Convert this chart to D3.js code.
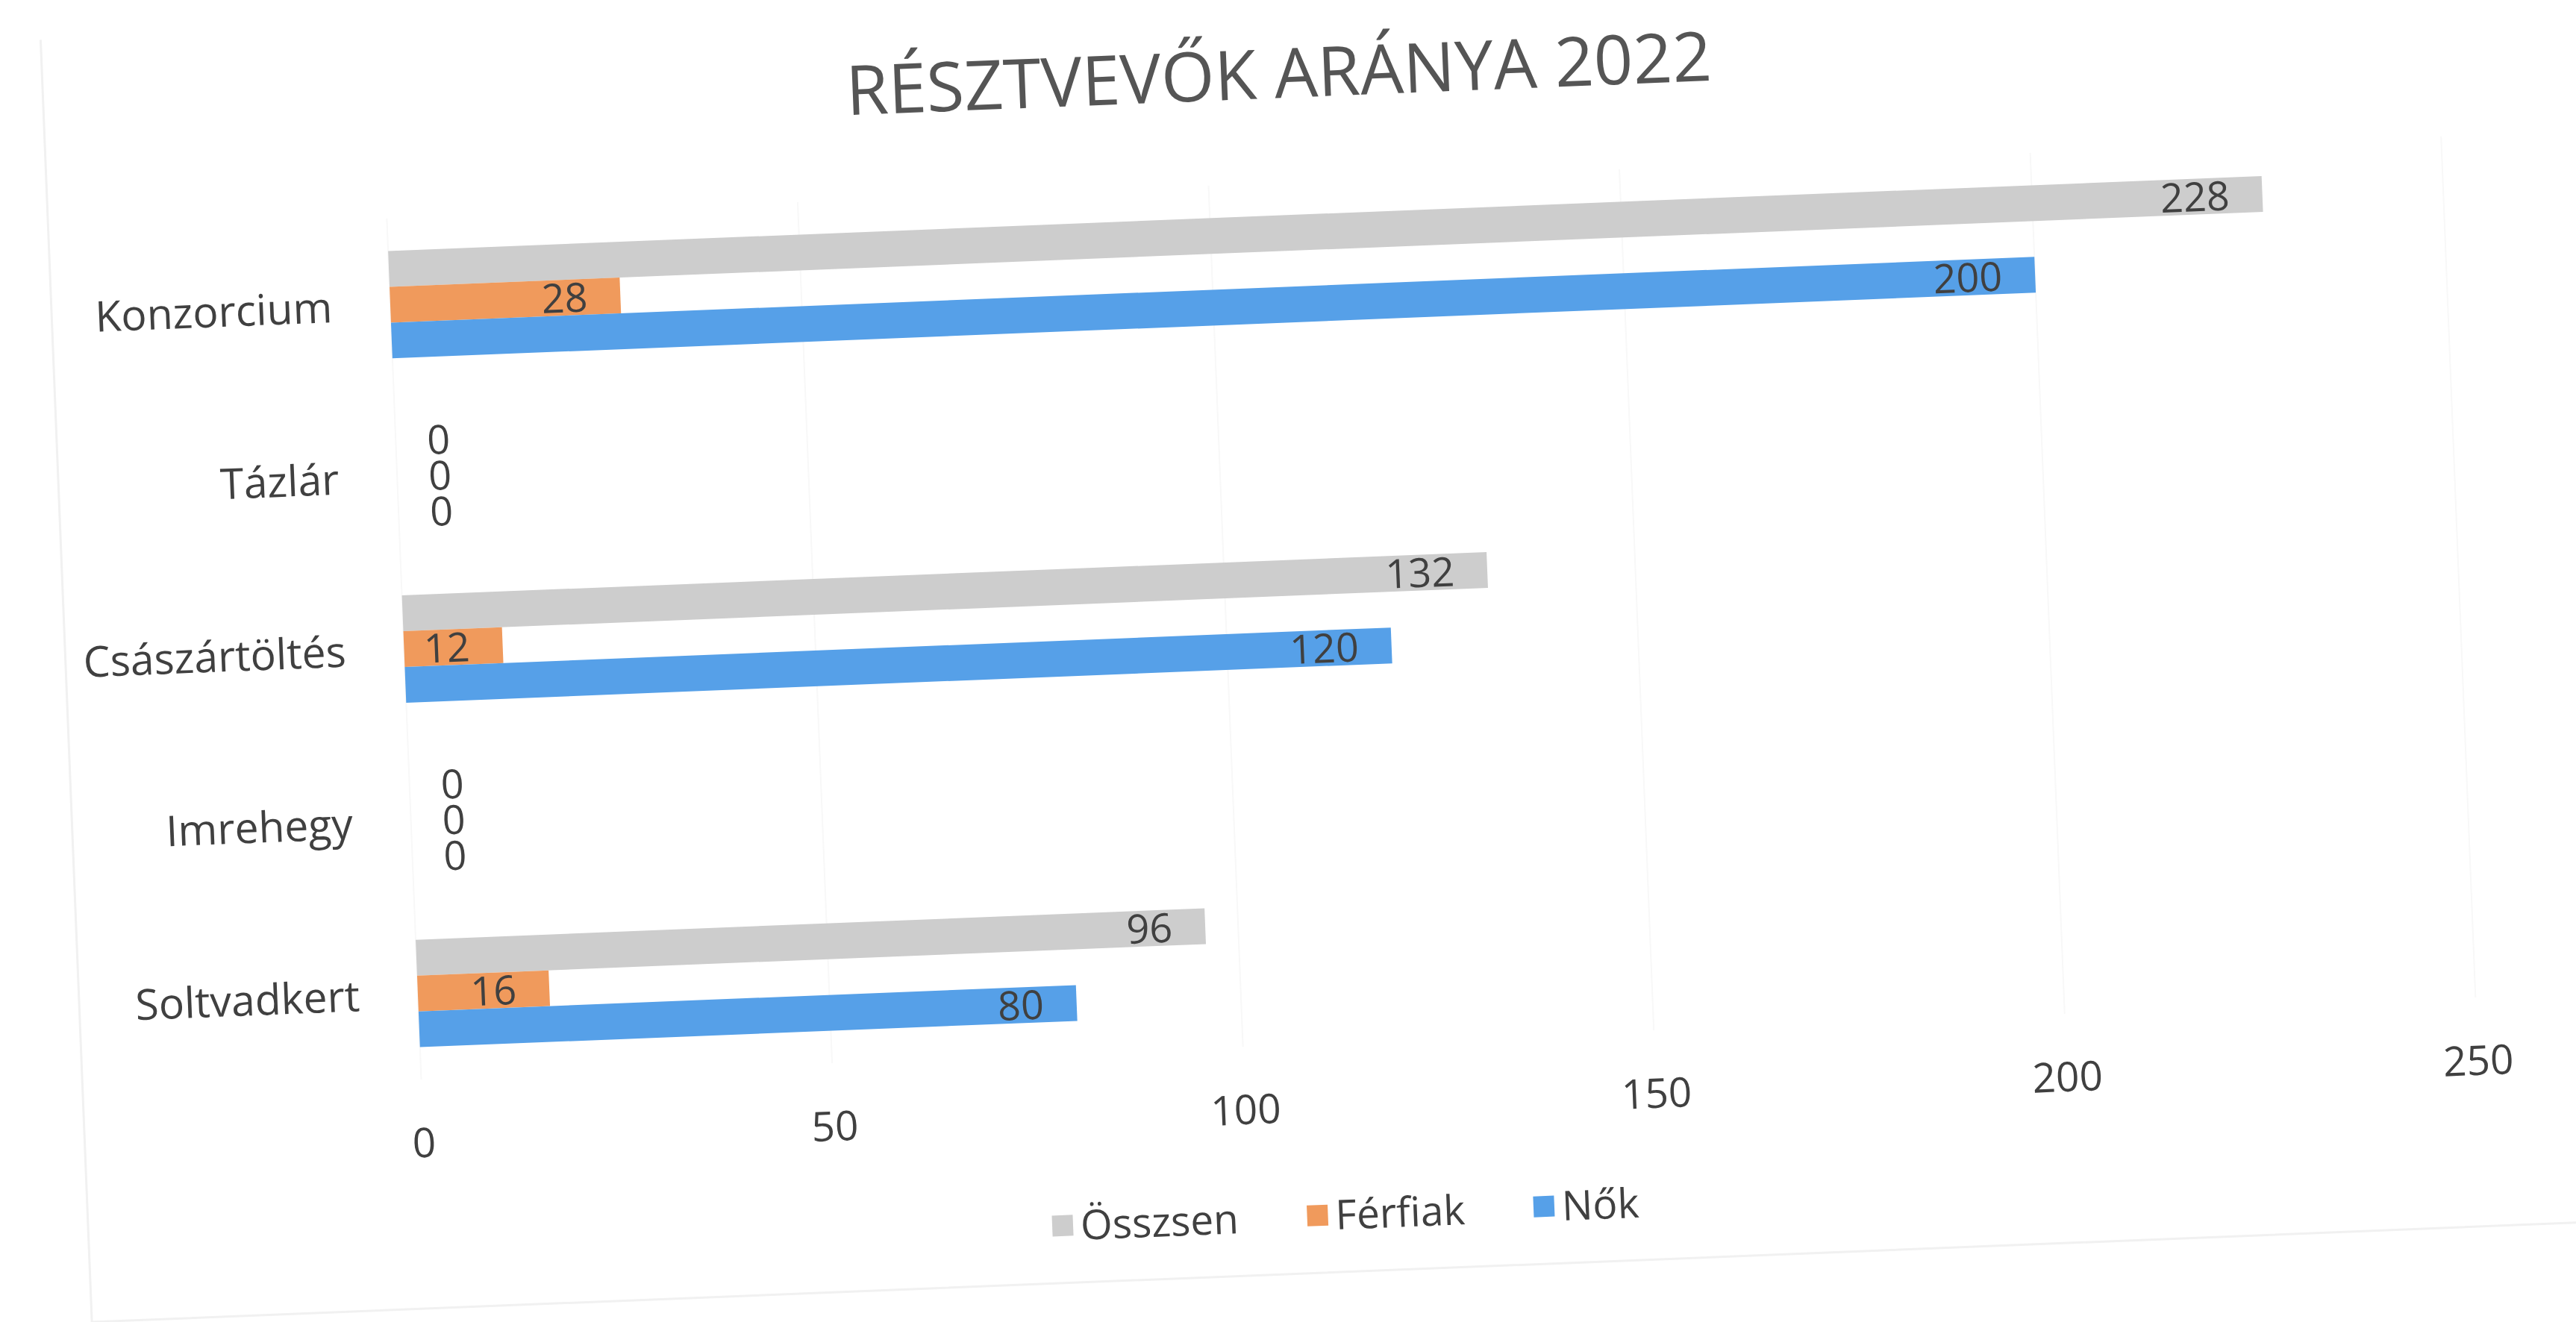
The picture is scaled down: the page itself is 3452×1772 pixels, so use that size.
<!DOCTYPE html>
<html>
<head>
<meta charset="utf-8">
<script src="https://cdn.jsdelivr.net/npm/d3@7"></script>
<style>
  body { margin: 0; background: #fff; }
  text { font-family: "Open Sans", "Noto Sans", sans-serif; fill: #404040; }
</style>
</head>
<body>
<svg></svg>
<script>
// ====== Données ====== //
const categories = ["Konzorcium", "Tázlár", "Császártöltés", "Imrehegy", "Soltvadkert"];
const series = ["Összsen", "Férfiak", "Nők"];
const osszesen = [228, 0, 132, 0, 96];
const ferfiak = [28, 0, 12, 0, 16];
const nok = [200, 0, 120, 0, 80];
const xTicks = [0, 50, 100, 150, 200, 250];
const colors = ["#cdcdcd", "#f09a5c", "#56a0e8"];
const title = "RÉSZTVEVŐK ARÁNYA 2022";

const values = [osszesen, ferfiak, nok];

// ====== Dimensions ====== //
const width = 3452;
const height = 1772;

const svg = d3.select('svg')
    .attr('width', width)
    .attr('height', height);

// the scanned page is slightly tilted, the whole chart is drawn in a rotated group
const origin = [568, 1534];
const tilt = -2.29;

const g = svg.append("g")
    .attr("transform", `translate(${origin[0]},${origin[1]}) rotate(${tilt})`);

const x = d3.scaleLinear().domain([0, 250]).range([0, 2755]);

const y = d3.scaleBand()
    .domain(categories)
    .range([-1242, -87]);

const barH = 48;
const ySeries = d3.scaleBand()
    .domain(series)
    .range([0, barH * series.length]);

// faint edge of the printed chart area (left + bottom only)
g.append("path")
    .attr("d", "M-454,-1500 L-454,220 L2900,220")
    .attr("fill", "none")
    .attr("stroke", "#f1f1f1")
    .attr("stroke-width", 3);

// very faint gridlines
g.selectAll(".grid")
    .data(xTicks)
    .enter()
    .append("line")
    .attr("x1", d => x(d)).attr("x2", d => x(d))
    .attr("y1", y.range()[0]).attr("y2", y.range()[1])
    .attr("stroke", "#f8f8f8")
    .attr("stroke-width", 2);

// ====== Barres ====== //
const rows = [];
categories.forEach((c, i) => {
    series.forEach((s, j) => {
        rows.push({ cat: c, serie: s, value: values[j][i], color: colors[j] });
    });
});

const yPos = d => y(d.cat) + y.bandwidth() / 2 - barH * series.length / 2 + ySeries(d.serie);

g.selectAll(".bar")
    .data(rows)
    .enter()
    .append("rect")
    .attr("class", "bar")
    .attr("x", x(0))
    .attr("y", yPos)
    .attr("width", d => x(d.value) - x(0))
    .attr("height", ySeries.bandwidth())
    .attr("fill", d => d.color);

// data labels, inside end (zero values next to the axis)
g.selectAll(".label")
    .data(rows)
    .enter()
    .append("text")
    .attr("class", "label")
    .attr("x", d => d.value > 0 ? x(d.value) - 44 : x(0) + 42)
    .attr("y", d => yPos(d) + ySeries.bandwidth() / 2)
    .attr("dy", "0.36em")
    .attr("text-anchor", d => d.value > 0 ? "end" : "start")
    .style("font-size", "54px")
    .text(d => d.value);

// ====== Axes ====== //
g.selectAll(".cat")
    .data(categories)
    .enter()
    .append("text")
    .attr("class", "cat")
    .attr("x", -78)
    .attr("y", d => y(d) + y.bandwidth() / 2)
    .attr("dy", "0.36em")
    .attr("text-anchor", "end")
    .style("font-size", "57px")
    .text(d => d);

const xAxis = g.append("g")
    .attr("transform", "translate(0,-22)")
    .call(d3.axisBottom(x).tickValues(xTicks).tickSize(0).tickPadding(0));

xAxis.select(".domain").remove();
xAxis.selectAll("text")
    .attr("fill", null)
    .style("font-size", "55px")
    .style("font-family", null);

// ====== Titre ====== //
g.append("text")
    .attr("x", 1202)
    .attr("y", -1389)
    .attr("dy", "0.36em")
    .attr("text-anchor", "middle")
    .style("font-size", "92px")
    .style("fill", "#555")
    .text(title);

// ====== Légende ====== //
const legend = g.append("g").attr("transform", "translate(837,143)");
let lx = 0;
series.forEach((s, j) => {
    legend.append("rect")
        .attr("x", lx).attr("y", -14)
        .attr("width", 28).attr("height", 28)
        .attr("fill", colors[j]);
    const t = legend.append("text")
        .attr("x", lx + 38)
        .attr("y", 0)
        .attr("dy", "0.36em")
        .style("font-size", "55px")
        .text(s);
    lx += 38 + t.node().getComputedTextLength() + 92;
});
</script>
</body>
</html>
